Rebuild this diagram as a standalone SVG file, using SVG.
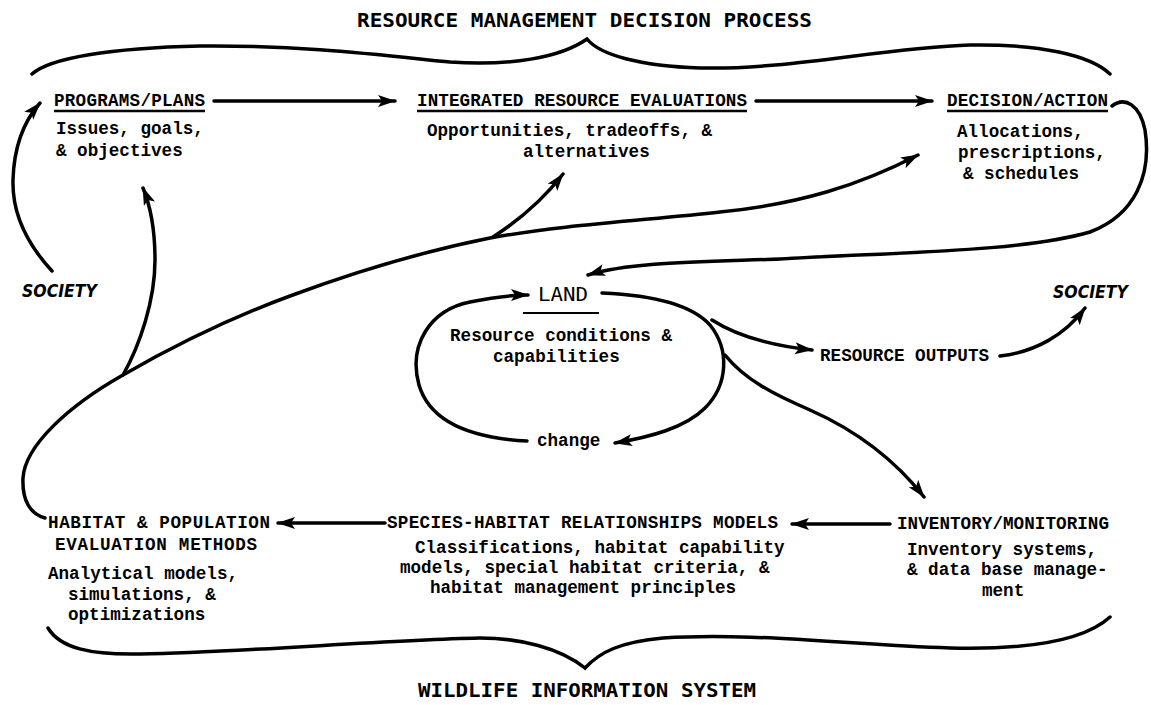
<svg xmlns="http://www.w3.org/2000/svg" width="1151" height="705" viewBox="0 0 1151 705">
<style>
.tw{font-family:"Liberation Mono","Courier New",monospace;font-weight:bold;font-size:17.6px;fill:#000}
.sans{font-family:"DejaVu Sans Mono","Liberation Mono",monospace;font-weight:bold;font-size:19px;fill:#000}
.sansr{font-family:"DejaVu Sans Mono","Liberation Mono",monospace;font-weight:normal;font-size:19px;fill:#000}
.soc{font-family:"DejaVu Sans","Liberation Sans",sans-serif;font-weight:bold;font-style:italic;font-size:17px;fill:#000}
.ln{fill:none;stroke:#000;stroke-width:3.5;stroke-linecap:round;stroke-linejoin:round}
.ul{stroke:#000;stroke-width:2.5}
.br{fill:none;stroke:#000;stroke-width:3.5;stroke-linecap:round;stroke-linejoin:miter}
</style>
<defs>
<marker id="ah" markerUnits="userSpaceOnUse" markerWidth="20" markerHeight="14" refX="17" refY="6" orient="auto">
<path d="M0,0 L18,6 L0,12 L4,6 Z" fill="#000"/>
</marker>
</defs>
<rect width="1151" height="705" fill="#fff"/>

<g id="title-top">
<text class="sans" x="357" y="27" textLength="455" lengthAdjust="spacingAndGlyphs">RESOURCE MANAGEMENT DECISION PROCESS</text>
<path class="br" d="M32,74 C50,58 110,48 200,46 C300,45 380,55 450,62 C510,66 560,58 587,39 C600,55 640,66 700,68 C790,70 880,48 970,45 C1040,44 1090,55 1110,74"/>
</g>

<g id="programs-plans">
<text class="tw" x="54" y="106" textLength="151">PROGRAMS/PLANS</text>
<line class="ul" x1="54" y1="111" x2="205" y2="111"/>
<text class="tw" x="56" y="134">Issues, goals,</text>
<text class="tw" x="56" y="156">&amp; objectives</text>
</g>

<g id="integrated-evaluations">
<text class="tw" x="417" y="106" textLength="330">INTEGRATED RESOURCE EVALUATIONS</text>
<line class="ul" x1="417" y1="111" x2="747" y2="111"/>
<text class="tw" x="427" y="136">Opportunities, tradeoffs, &amp;</text>
<text class="tw" x="523" y="157">alternatives</text>
</g>

<g id="decision-action">
<text class="tw" x="947" y="106" textLength="161">DECISION/ACTION</text>
<line class="ul" x1="947" y1="111" x2="1108" y2="111"/>
<text class="tw" x="957" y="137">Allocations,</text>
<text class="tw" x="958" y="158">prescriptions,</text>
<text class="tw" x="963" y="179">&amp; schedules</text>
</g>

<g id="society-left">
<text class="soc" x="22" y="297" textLength="75" lengthAdjust="spacingAndGlyphs">SOCIETY</text>
</g>

<g id="society-right">
<text class="soc" x="1053" y="298" textLength="75" lengthAdjust="spacingAndGlyphs">SOCIETY</text>
</g>

<g id="land">
<text class="sansr" x="538" y="301" textLength="50" lengthAdjust="spacingAndGlyphs">LAND</text>
<line x1="523" y1="313" x2="599" y2="313" stroke="#000" stroke-width="2"/>
<text class="tw" x="450" y="341" textLength="222">Resource conditions &amp;</text>
<text class="tw" x="493" y="362">capabilities</text>
</g>

<g id="change">
<text class="tw" x="537" y="446">change</text>
</g>

<g id="resource-outputs">
<text class="tw" x="820" y="361" textLength="169">RESOURCE OUTPUTS</text>
</g>

<g id="habitat-population">
<text class="tw" x="48" y="528" textLength="222">HABITAT &amp; POPULATION</text>
<text class="tw" x="55" y="550" textLength="202">EVALUATION METHODS</text>
<text class="tw" x="48" y="579">Analytical models,</text>
<text class="tw" x="68" y="600">simulations, &amp;</text>
<text class="tw" x="68" y="620">optimizations</text>
</g>

<g id="species-habitat">
<text class="tw" x="387" y="528" textLength="391">SPECIES-HABITAT RELATIONSHIPS MODELS</text>
<text class="tw" x="415" y="553">Classifications, habitat capability</text>
<text class="tw" x="400" y="573">models, special habitat criteria, &amp;</text>
<text class="tw" x="430" y="593">habitat management principles</text>
</g>

<g id="inventory-monitoring">
<text class="tw" x="897" y="529" textLength="212">INVENTORY/MONITORING</text>
<text class="tw" x="907" y="555">Inventory systems,</text>
<text class="tw" x="907" y="575">&amp; data base manage-</text>
<text class="tw" x="982" y="596">ment</text>
</g>

<g id="title-bottom">
<path class="br" d="M48,628 C60,648 90,655 140,654 C250,652 380,640 480,638 C520,638 560,648 585,668 C600,652 620,642 663,638 C750,632 850,645 950,648 C1030,650 1085,640 1110,617"/>
<text class="sans" x="418" y="697" textLength="338" lengthAdjust="spacingAndGlyphs">WILDLIFE INFORMATION SYSTEM</text>
</g>

<g id="connectors">
<line class="ln" x1="214" y1="101" x2="395" y2="101" marker-end="url(#ah)"/>
<line class="ln" x1="756" y1="101" x2="932" y2="101" marker-end="url(#ah)"/>
<path class="ln" d="M1112,106 C1125,96 1140,105 1145,130 C1152,175 1135,215 1090,232 C1020,252 900,252 780,259 C700,262 630,262 588,275" marker-end="url(#ah)"/>
<path class="ln" d="M52,271 C28,245 12,215 13,180 C14,145 25,120 40,103" marker-end="url(#ah)"/>
<path class="ln" d="M45,518 C30,514 22,500 23,478 C25,445 70,405 123,375 C170,348 230,318 290,296 C360,270 430,250 490,238 C560,225 650,220 720,212 C800,204 860,185 918,155" marker-end="url(#ah)"/>
<path class="ln" d="M123,375 C140,345 155,300 155,260 C155,230 150,205 143,188" marker-end="url(#ah)"/>
<path class="ln" d="M493,237 Q535,210 563,174" marker-end="url(#ah)"/>
<path class="ln" d="M527,441 C470,438 430,422 419,385 C408,345 430,310 470,302 C495,297 510,295 528,295" marker-end="url(#ah)"/>
<path class="ln" d="M602,293 C650,295 690,303 710,325 C730,350 728,385 705,408 C685,428 650,437 615,443" marker-end="url(#ah)"/>
<path class="ln" d="M712,320 C740,338 775,346 812,350" marker-end="url(#ah)"/>
<path class="ln" d="M725,355 C745,380 775,395 810,410 C855,430 895,460 924,497" marker-end="url(#ah)"/>
<path class="ln" d="M1000,356 C1035,352 1065,335 1085,308" marker-end="url(#ah)"/>
<line class="ln" x1="385" y1="523" x2="278" y2="523" marker-end="url(#ah)"/>
<line class="ln" x1="890" y1="524" x2="792" y2="524" marker-end="url(#ah)"/>
</g>
</svg>
